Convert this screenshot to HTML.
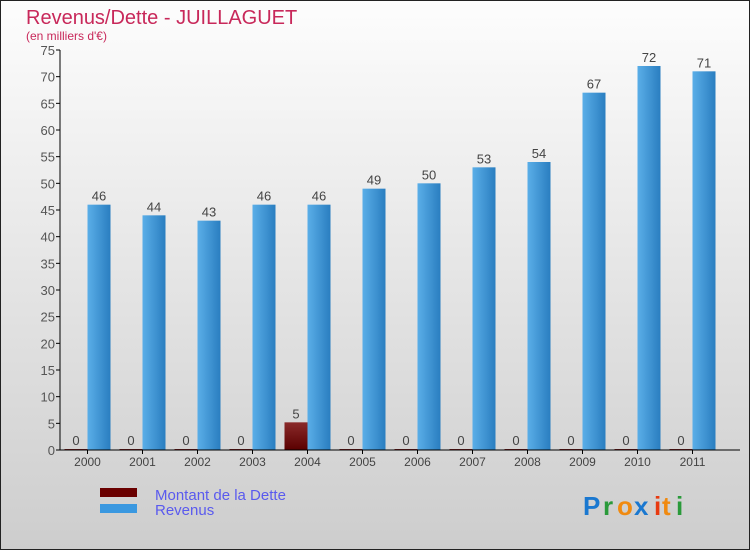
<!DOCTYPE html>
<html><head><meta charset="utf-8"><style>
body{margin:0}
#c{position:relative;width:750px;height:550px;overflow:hidden;font-family:"Liberation Sans",sans-serif}
</style></head><body>
<div id="c">
<svg id="s" width="750" height="550" xmlns="http://www.w3.org/2000/svg">
<defs>
<linearGradient id="bg" x1="0" y1="0" x2="0" y2="1"><stop offset="0" stop-color="#fdfdfd"/><stop offset="1" stop-color="#cdcdcd"/></linearGradient>
<linearGradient id="rv" x1="0" y1="0" x2="1" y2="0"><stop offset="0" stop-color="#5aaee8"/><stop offset="1" stop-color="#2a7ec0"/></linearGradient>
<linearGradient id="dt" x1="0" y1="0" x2="0" y2="1"><stop offset="0" stop-color="#8a2a2a"/><stop offset="1" stop-color="#5a0000"/></linearGradient>
</defs>
<rect x="0.5" y="0.5" width="749" height="549" fill="url(#bg)" stroke="#222"/>
<text x="26" y="24" font-size="20" fill="#c8285a">Revenus/Dette - JUILLAGUET</text>
<text x="26" y="40" font-size="12" fill="#c8285a">(en milliers d'€)</text>
<g id="g"></g>
<rect x="100" y="488" width="37" height="9" fill="#6a0000"/>
<text x="155" y="500" font-size="15" fill="#5a5aee">Montant de la Dette</text>
<rect x="100" y="504" width="37" height="9" fill="#3a98e0"/>
<text x="155" y="515" font-size="15" fill="#5a5aee">Revenus</text>
<g font-size="26" font-weight="bold">
<text x="583" y="515" fill="#1a78d0">P</text><text x="603" y="515" fill="#2a9a3a">r</text><text x="617" y="515" fill="#f08a10">o</text><text x="634" y="515" fill="#1a78d0">x</text><text x="654" y="515" fill="#e83a10">i</text><text x="662" y="515" fill="#f08a10">t</text><text x="676" y="515" fill="#2a9a3a">i</text>
</g>
</svg>
</div>
<script>
const categories=["2000","2001","2002","2003","2004","2005","2006","2007","2008","2009","2010","2011"];
const dette=[0,0,0,0,5,0,0,0,0,0,0,0];
const revenus=[46,44,43,46,46,49,50,53,54,67,72,71];
const yTicks=[0,5,10,15,20,25,30,35,40,45,50,55,60,65,70,75];
const NS="http://www.w3.org/2000/svg";
const g=document.getElementById('g');
const x0=60,step=55,y0=450,ppu=400/75;
const y=v=>y0-v*ppu;
function mk(t,a,txt){const e=document.createElementNS(NS,t);for(const k in a)e.setAttribute(k,a[k]);if(txt!==undefined)e.textContent=txt;g.appendChild(e);return e;}
yTicks.forEach(v=>{
 const l=mk('line',{x1:x0-4,x2:x0,y1:y(v),y2:y(v),stroke:'#000'});
 
 
 const t=mk('text',{x:x0-5,y:y(v)+5,'text-anchor':'end','font-size':13,fill:'#555'},v);
 
 
});
categories.forEach((c,i)=>{
 const cx=x0+step*(i+0.5);
 const d=mk('rect',{x:cx-23,y:y(dette[i])-1,width:23,height:dette[i]*ppu+1,fill:'url(#dt)'});
 
 
 const r=mk('rect',{x:cx,y:y(revenus[i]),width:23,height:revenus[i]*ppu,fill:'url(#rv)'});
 
 
 const dl=mk('text',{x:cx-11.5,y:y(dette[i])-5,'text-anchor':'middle','font-size':13,fill:'#444'},dette[i]);
 
 
 const rl=mk('text',{x:cx+11.5,y:y(revenus[i])-4,'text-anchor':'middle','font-size':13,fill:'#444'},revenus[i]);
 
 
 const tk=mk('line',{x1:cx,x2:cx,y1:y0,y2:y0+4,stroke:'#000'});
 
 
 const xl=mk('text',{x:cx,y:y0+16,'text-anchor':'middle','font-size':12,fill:'#444'},c);
 
 
});
const ya=mk('line',{x1:x0,x2:x0,y1:y(75),y2:y0,stroke:'#000'});


const xa=mk('line',{x1:x0,x2:740,y1:y0,y2:y0,stroke:'#000'});


</script>
</body></html>
